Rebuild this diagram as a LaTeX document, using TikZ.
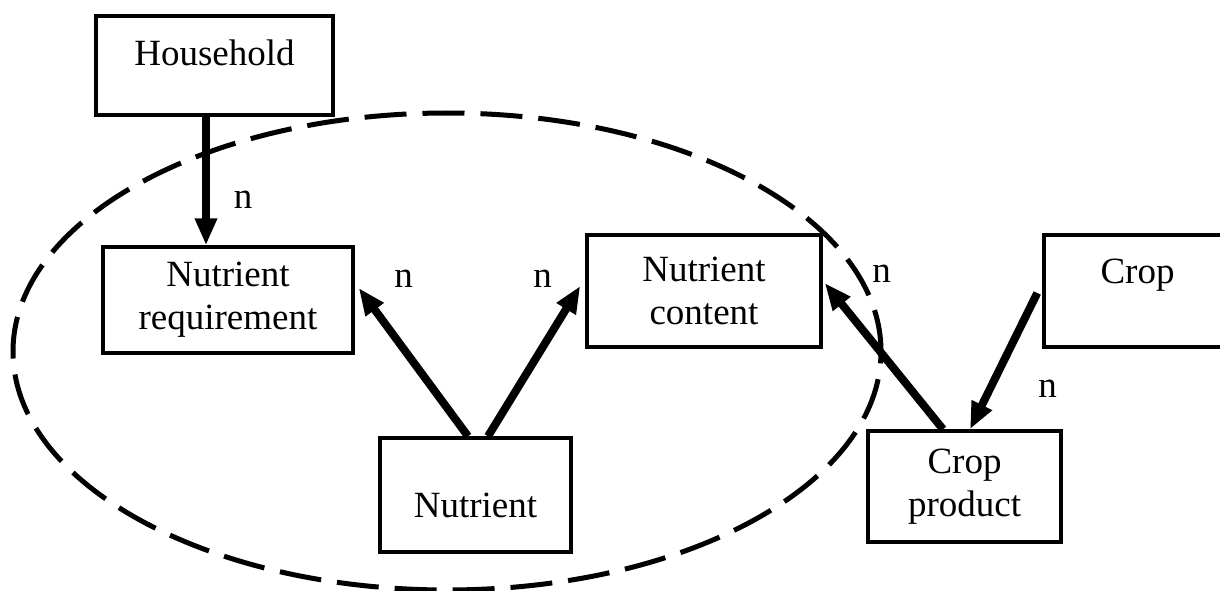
\documentclass[tikz,border=0pt]{standalone}
\usepackage{fontspec}
\setmainfont{Liberation Serif}
\usetikzlibrary{arrows.meta}
\begin{document}
\begin{tikzpicture}[x=1pt,y=-1pt,
  box/.style={draw, line width=3.5pt, rectangle, inner sep=0pt, align=center,
    font=\fontsize{37}{43}\selectfont},
  arr/.style={line width=8pt, -{Triangle[length=27pt,width=21pt]}},
  mult/.style={font=\fontsize{37}{43}\selectfont, anchor=base, inner sep=0pt},
  ring/.style={line width=5pt, dash pattern=on 42pt off 16pt}]
\useasboundingbox (0,0) rectangle (1220,591);

% dashed boundary around the nutrient entities
\draw[ring] (447,351.5) ellipse [x radius=434pt, y radius=238.5pt];

% entities
\node[box, minimum width=237pt, minimum height=99pt, text height=20pt, text depth=20pt] (hh) at (214.5,65.5) {Household};
\node[box, minimum width=250pt, minimum height=106pt] (nr) at (228,300) {Nutrient\\requirement};
\node[box, minimum width=234pt, minimum height=112pt] (nc) at (704,291) {Nutrient\\content};
\node[box, minimum width=187pt, minimum height=112pt, text height=20pt, text depth=36pt] (crop) at (1137.5,291) {Crop};
\node[box, minimum width=191pt, minimum height=114pt, text height=54pt, text depth=10pt] (nut) at (475.5,495) {Nutrient};
\node[box, minimum width=193pt, minimum height=111pt] (cp) at (964.5,486.5) {Crop\\product};

% relationships
\draw[arr] ([xshift=-8.5pt]hh.south) -- ([xshift=-22pt]nr.north);
\draw[arr] ([xshift=-7.5pt]nut.north) -- ([xshift=4pt,yshift=12pt]nr.east);
\draw[arr] ([xshift=12.5pt]nut.north) -- ([xshift=-5pt,yshift=5pt]nc.west);
\draw[arr] ([xshift=-21.5pt]cp.north) -- ([xshift=2pt,yshift=8pt]nc.east);
\draw[arr] ([xshift=-5pt,yshift=-2pt]crop.west) -- ([xshift=5.5pt]cp.north);

% cardinalities
\node[mult] (n1) at (243,208) {n};
\node[mult] (n2) at (403.5,287) {n};
\node[mult] (n3) at (542.5,287) {n};
\node[mult] (n4) at (881.5,282) {n};
\node[mult] (n5) at (1047.5,397) {n};
\end{tikzpicture}
\end{document}
